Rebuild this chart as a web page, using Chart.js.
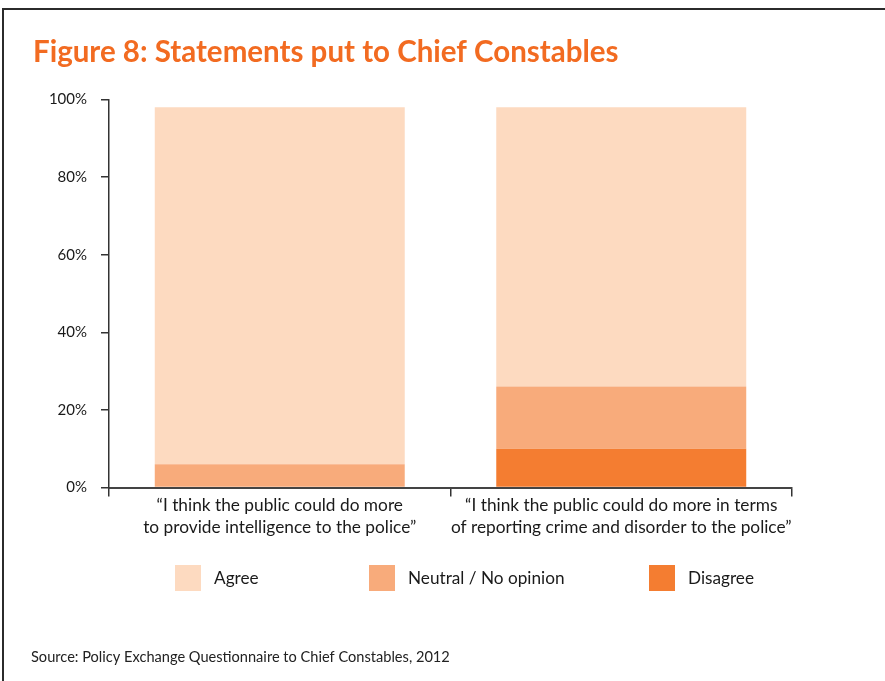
<!DOCTYPE html>
<html>
<head>
<meta charset="utf-8">
<script src="https://cdn.jsdelivr.net/npm/chart.js@4/dist/chart.umd.min.js"></script>
<style>
  html, body { margin: 0; padding: 0; background: #fff; }
  #wrap { position: relative; width: 885px; height: 681px; overflow: hidden; }
  #frame { position: absolute; left: 2px; top: 8px; width: 900px; height: 700px;
           border-top: 2px solid #2b2b2b; border-left: 2px solid #2b2b2b; box-sizing: border-box; }
  canvas { position: absolute; left: 0; top: 0; }
</style>
</head>
<body>
<div id="wrap">
  <div id="frame"></div>
  <canvas id="c" width="885" height="681"></canvas>
</div>
<script>
// Survey statements (two-line category labels)
const categories = [
  ["\u201cI think the public could do more", "to provide intelligence to the police\u201d"],
  ["\u201cI think the public could do more in terms", "of reporting crime and disorder to the police\u201d"]
];

// Share of responses, percent
const disagree = [0, 10];
const neutral  = [6, 16];
const agree    = [92, 72];

const seriesNames = ["Disagree", "Neutral / No opinion", "Agree"];
const yTickValues = [0, 20, 40, 60, 80, 100];

const COLORS = { agree: "#FDDAC0", neutral: "#F8AB7B", disagree: "#F47D31" };
const FONT = "Lato, 'Open Sans', sans-serif";

// Title, legend and source note drawn on the canvas
const decorations = {
  id: "decorations",
  afterDraw(chart) {
    const ctx = chart.ctx;
    ctx.save();
    ctx.textBaseline = "alphabetic";
    ctx.textAlign = "left";
    ctx.fillStyle = "#F26B21";
    ctx.font = "bold 29.5px " + FONT;
    ctx.fillText("Figure 8: Statements put to Chief Constables", 33, 62);

    // legend: Agree, Neutral, Disagree (reverse of stacking order)
    const slots = [175, 369, 649];
    const ds = chart.data.datasets.slice().reverse();
    ctx.font = "17.2px " + FONT;
    ds.forEach((d, i) => {
      const x = slots[i];
      ctx.fillStyle = d.backgroundColor;
      ctx.fillRect(x, 565, 26, 26);
      ctx.fillStyle = "#1a1a1a";
      ctx.textBaseline = "middle";
      ctx.fillText(d.label, x + 39, 578);
    });

    ctx.textBaseline = "alphabetic";
    ctx.font = "14.6px " + FONT;
    ctx.fillStyle = "#222";
    ctx.fillText("Source: Policy Exchange Questionnaire to Chief Constables, 2012", 31, 662);
    ctx.restore();
  }
};

new Chart(document.getElementById("c"), {
  type: "bar",
  data: {
    labels: categories,
    datasets: [
      { label: seriesNames[0], data: disagree, backgroundColor: COLORS.disagree },
      { label: seriesNames[1], data: neutral,  backgroundColor: COLORS.neutral },
      { label: seriesNames[2], data: agree,    backgroundColor: COLORS.agree }
    ]
  },
  options: {
    responsive: false,
    animation: false,
    events: [],
    layout: { padding: { left: 0, right: 93, top: 99.5, bottom: 0 } },
    datasets: { bar: { barPercentage: 0.732, categoryPercentage: 1, borderWidth: 0 } },
    plugins: { legend: { display: false }, title: { display: false }, tooltip: { enabled: false } },
    scales: {
      x: {
        stacked: true,
        offset: true,
        grid: { offset: true, drawOnChartArea: false, drawTicks: true, tickLength: 9, color: "#333", lineWidth: 1.5 },
        border: { display: true, color: "#444", width: 2 },
        ticks: { color: "#1a1a1a", font: { family: FONT, size: 17.3, lineHeight: 1.28 }, padding: -2, maxRotation: 0, autoSkip: false },
        afterFit(scale) { scale.height = 681 - 487.5; }
      },
      y: {
        stacked: true,
        min: 0,
        max: 100,
        afterBuildTicks(scale) { scale.ticks = yTickValues.map(v => ({ value: v })); },
        grid: { drawOnChartArea: false, drawTicks: true, tickLength: 8, color: "#333", lineWidth: 1.5 },
        border: { display: true, color: "#333", width: 1.5 },
        ticks: { color: "#1a1a1a", font: { family: FONT, size: 15 }, padding: 14, callback: v => v + "%" },
        afterFit(scale) { scale.width = 109; }
      }
    }
  },
  plugins: [decorations]
});
</script>
</body>
</html>
